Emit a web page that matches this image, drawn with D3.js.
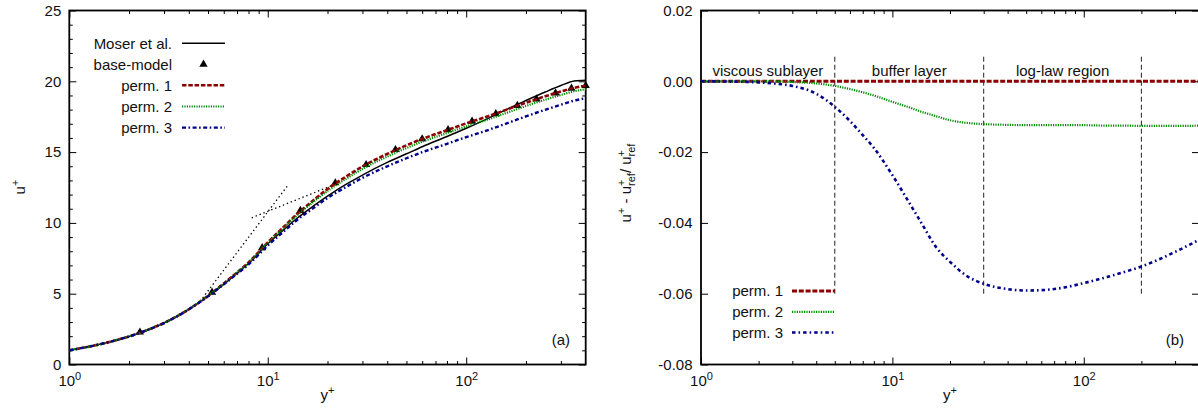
<!DOCTYPE html>
<html><head><meta charset="utf-8">
<script src="https://cdn.jsdelivr.net/npm/d3@7"></script>
<style>
body{margin:0;background:#fff}
svg{display:block}
text{font-family:'Liberation Sans',Arial,Helvetica,sans-serif;fill:#111}
</style>
</head><body>
<svg id="c" width="1198" height="414"></svg>
<script>
// ---------------- data ----------------
const yPlus = [1,1.5,2,2.5,3,4,5,6,7,8,10,12,14,17,20,25,30,40,50,60,80,100,130,160,200,250,300,350,400];
const moserU = [1.0,1.5,1.98,2.46,2.93,3.9,4.82,5.66,6.45,7.13,8.53,9.5,10.31,11.2,11.89,12.75,13.38,14.27,14.88,15.38,16.1,16.68,17.4,18.02,18.64,19.24,19.7,20.02,20.08];
const perm1U = [1.0,1.5,1.98,2.46,2.93,3.9,4.85,5.72,6.5,7.2,8.63,9.7,10.61,11.6,12.39,13.3,13.98,14.87,15.48,15.93,16.55,17.03,17.55,18.0,18.49,18.94,19.28,19.54,19.69];
const perm2U = [1.0,1.5,1.98,2.46,2.929,3.898,4.844,5.707,6.48,7.171,8.58,9.63,10.52,11.485,12.254,13.143,13.81,14.687,15.288,15.732,16.345,16.819,17.331,17.775,18.257,18.701,19.037,19.294,19.444];
const perm3U = [1.0,1.5,1.979,2.458,2.926,3.886,4.815,5.656,6.401,7.065,8.401,9.375,10.191,11.055,11.758,12.565,13.18,13.997,14.565,14.99,15.587,16.059,16.578,17.028,17.523,17.989,18.35,18.633,18.808];
const baseYPlus = [2.27,5.24,9.37,14.6,21.9,31.3,44,60,81,107,141,181,226,282,339,400];
const baseU = [2.28,5.1,8.24,10.87,12.82,14.11,15.17,15.93,16.58,17.17,17.71,18.28,18.75,19.17,19.5,19.69];
const viscYPlus = [4.7,12.7];
const viscU = [4.7,12.7];
const logYPlus = [8.3,21];
const logU = [10.36,12.63];
const diff1 = [0,0,0,0,0,0,0,0,0,0,0,0,0,0,0,0,0,0,0,0,0,0,0,0,0,0,0,0,0];
const diff2 = [0,0,0,0,-0.0002,-0.0006,-0.0013,-0.0022,-0.0031,-0.004,-0.0058,-0.0072,-0.0085,-0.0099,-0.011,-0.0118,-0.0121,-0.0123,-0.0124,-0.0124,-0.0124,-0.0124,-0.0125,-0.0125,-0.0126,-0.0126,-0.0126,-0.0126,-0.0125];
const diff3 = [0,-0.0001,-0.0003,-0.0007,-0.0013,-0.0035,-0.0072,-0.0112,-0.0152,-0.0188,-0.0265,-0.0335,-0.0395,-0.047,-0.051,-0.0553,-0.0572,-0.0587,-0.0591,-0.059,-0.0582,-0.057,-0.0554,-0.054,-0.0523,-0.0502,-0.0482,-0.0464,-0.0448];
const regionBounds = [5,30,200];
const regionLabelPos = [2.236,12.25,77.5];
const regionLabels = ["viscous sublayer","buffer layer","log-law region"];
const regionLineRange = [-0.06,0.007];
const leftTicksY = [0,5,10,15,20,25];
const leftMinorY = [1,2,3,4,6,7,8,9,11,12,13,14,16,17,18,19,21,22,23,24];
const rightTicksY = [-0.08,-0.06,-0.04,-0.02,0,0.02];
const xMajor = [1,10,100];
const xMinor = [2,3,4,5,6,7,8,9,20,30,40,50,60,70,80,90,200,300];
const leftLegend = ["Moser et al.","base-model","perm. 1","perm. 2","perm. 3"];
const rightLegend = ["perm. 1","perm. 2","perm. 3"];

// ---------------- styles ----------------
const C1 = "#8b0000", C2 = "#008a00", C3 = "#00008b";
const styleL = {
  moser:{stroke:"#000",w:1.5,dash:null},
  p1:{stroke:C1,w:2.6,dash:"4.5,1.8"},
  p2:{stroke:C2,w:2.2,dash:"1.2,1.2"},
  p3:{stroke:C3,w:2.4,dash:"4,2.5,1.6,2.5"}
};
const styleR = {
  p1:{stroke:C1,w:3,dash:"5,1.8"},
  p2:{stroke:C2,w:2.2,dash:"1.2,1.2"},
  p3:{stroke:C3,w:2.6,dash:"3.5,3,1.6,3"}
};

const svg = d3.select('#c');
svg.append('rect').attr('width',1198).attr('height',414).attr('fill','#fff');
const TOP = 10.5, BOT = 364.5;
const xL = d3.scaleLog().domain([1,400]).range([69.3,585.7]);
const yL = d3.scaleLinear().domain([0,25]).range([BOT,TOP]);
const xR = d3.scaleLog().domain([1,400]).range([701,1199]);
const yR = d3.scaleLinear().domain([-0.08,0.02]).range([BOT,TOP]);

function supLabel(sel){
  sel.each(function(d){
    const t = d3.select(this); t.text(null);
    t.append('tspan').text('10');
    t.append('tspan').attr('font-size',11).attr('dy',-6).text(Math.round(Math.log10(d)));
  });
}

function axes(x,y,yMaj,yMin,fmt,padY){
  const g = svg.append('g');
  const [x0,x1] = x.range();
  const clean = s => { s.select('.domain').remove(); s.selectAll('line').attr('stroke','#000').attr('stroke-width',1); };
  g.append('g').attr('transform',`translate(0,${BOT})`)
    .call(d3.axisBottom(x).tickValues(xMajor).tickSize(-7).tickSizeOuter(0).tickPadding(11))
    .call(clean)
    .call(s=>s.selectAll('text').attr('font-size',15).attr('fill','#111').call(supLabel));
  g.append('g').attr('transform',`translate(0,${BOT})`)
    .call(d3.axisBottom(x).tickValues(xMinor).tickSize(-3.5).tickSizeOuter(0).tickFormat(''))
    .call(clean);
  g.append('g').attr('transform',`translate(0,${TOP})`)
    .call(d3.axisTop(x).tickValues(xMajor).tickSize(-7).tickSizeOuter(0).tickFormat(''))
    .call(clean);
  g.append('g').attr('transform',`translate(0,${TOP})`)
    .call(d3.axisTop(x).tickValues(xMinor).tickSize(-3.5).tickSizeOuter(0).tickFormat(''))
    .call(clean);
  g.append('g').attr('transform',`translate(${x0},0)`)
    .call(d3.axisLeft(y).tickValues(yMaj).tickSize(-7).tickSizeOuter(0).tickPadding(padY).tickFormat(fmt))
    .call(clean)
    .call(s=>s.selectAll('text').attr('font-size',15).attr('fill','#111'));
  g.append('g').attr('transform',`translate(${x1},0)`)
    .call(d3.axisRight(y).tickValues(yMaj).tickSize(-7).tickSizeOuter(0).tickFormat(''))
    .call(clean);
  if(yMin.length){
    g.append('g').attr('transform',`translate(${x0},0)`)
      .call(d3.axisLeft(y).tickValues(yMin).tickSize(-3.5).tickSizeOuter(0).tickFormat(''))
      .call(clean);
    g.append('g').attr('transform',`translate(${x1},0)`)
      .call(d3.axisRight(y).tickValues(yMin).tickSize(-3.5).tickSizeOuter(0).tickFormat(''))
      .call(clean);
  }
  g.append('rect').attr('x',x0).attr('y',TOP).attr('width',x1-x0).attr('height',BOT-TOP)
    .attr('fill','none').attr('stroke','#000').attr('stroke-width',1.8);
}

function drawLine(g,x,y,xs,ys,st){
  const line = d3.line().x(d=>x(d[0])).y(d=>y(d[1])).curve(d3.curveMonotoneX);
  const p = g.append('path').datum(xs.map((v,i)=>[v,ys[i]])).attr('d',line)
    .attr('fill','none').attr('stroke',st.stroke).attr('stroke-width',st.w);
  if(st.dash) p.attr('stroke-dasharray',st.dash);
  return p;
}

function legendLine(g,x0,x1,yy,st){
  const p = g.append('line').attr('x1',x0).attr('x2',x1).attr('y1',yy).attr('y2',yy)
    .attr('stroke',st.stroke).attr('stroke-width',st.w);
  if(st.dash) p.attr('stroke-dasharray',st.dash);
}

function richLabel(pieces,x,y,rot){
  const g = svg.append('g');
  const inner = g.append('g');
  let cx = 0;
  pieces.forEach(p=>{
    if(p.t){
      const t = inner.append('text').attr('x',cx).attr('y',0).attr('font-size',15).style('white-space','pre').text(p.t);
      cx += t.node().getComputedTextLength();
    } else {
      let w = 0;
      if(p.sup){ const t = inner.append('text').attr('x',cx).attr('y',-6).attr('font-size',11).text(p.sup); w = Math.max(w,t.node().getComputedTextLength()); }
      if(p.sub){ const t = inner.append('text').attr('x',cx).attr('y',4).attr('font-size',11).text(p.sub); w = Math.max(w,t.node().getComputedTextLength()); }
      cx += w;
    }
  });
  inner.attr('transform',`translate(${-cx/2},0)`);
  g.attr('transform',`translate(${x},${y}) rotate(${rot})`);
}

// ---------------- left panel ----------------
axes(xL,yL,leftTicksY,leftMinorY,d3.format('d'),8);
const gL = svg.append('g');
drawLine(gL,xL,yL,viscYPlus,viscU,{stroke:'#000',w:1.3,dash:'1.4,2.8'});
drawLine(gL,xL,yL,logYPlus,logU,{stroke:'#000',w:1.3,dash:'1.4,2.8'});
drawLine(gL,xL,yL,yPlus,moserU,styleL.moser);
const tri = d3.symbol(d3.symbolTriangle,30);
gL.selectAll('path.base').data(baseYPlus.map((v,i)=>[v,baseU[i]])).join('path').attr('class','base')
  .attr('d',tri).attr('transform',d=>`translate(${xL(d[0])},${yL(d[1])})`).attr('fill','#000');
drawLine(gL,xL,yL,yPlus,perm1U,styleL.p1);
drawLine(gL,xL,yL,yPlus,perm2U,styleL.p2);
drawLine(gL,xL,yL,yPlus,perm3U,styleL.p3);

// left legend
const lg = svg.append('g');
const lgY = [43.3,64.3,85.3,106.5,127.6];
leftLegend.forEach((t,i)=>{
  lg.append('text').attr('x',172).attr('y',lgY[i]).attr('dy','0.35em').attr('text-anchor','end').attr('font-size',15).text(t);
});
legendLine(lg,182,225,lgY[0],styleL.moser);
lg.append('path').attr('d',tri).attr('transform',`translate(203.5,${lgY[1]})`).attr('fill','#000');
legendLine(lg,182,225,lgY[2],styleL.p1);
legendLine(lg,182,225,lgY[3],styleL.p2);
legendLine(lg,182,225,lgY[4],styleL.p3);
svg.append('text').attr('x',570).attr('y',345).attr('text-anchor','end').attr('font-size',15).text('(a)');

// ---------------- right panel ----------------
axes(xR,yR,rightTicksY,[],d=>d.toFixed(2),8.5);
const gR = svg.append('g');
regionBounds.forEach(b=>{
  gR.append('line').attr('x1',xR(b)).attr('x2',xR(b)).attr('y1',yR(regionLineRange[0])).attr('y2',yR(regionLineRange[1]))
    .attr('stroke','#222').attr('stroke-width',1).attr('stroke-dasharray','5,3');
});
regionLabels.forEach((t,i)=>{
  gR.append('text').attr('x',xR(regionLabelPos[i])).attr('y',76).attr('text-anchor','middle').attr('font-size',15).text(t);
});
drawLine(gR,xR,yR,yPlus,diff1,styleR.p1);
drawLine(gR,xR,yR,yPlus,diff2,styleR.p2);
drawLine(gR,xR,yR,yPlus,diff3,styleR.p3);

const rg = svg.append('g');
const rgY = [291,311.8,332.5];
rightLegend.forEach((t,i)=>{
  rg.append('text').attr('x',783).attr('y',rgY[i]).attr('dy','0.35em').attr('text-anchor','end').attr('font-size',15).text(t);
});
legendLine(rg,792,835,rgY[0],styleR.p1);
legendLine(rg,792,835,rgY[1],styleR.p2);
legendLine(rg,792,835,rgY[2],styleR.p3);
svg.append('text').attr('x',1184).attr('y',345).attr('text-anchor','end').attr('font-size',15).text('(b)');

// ---------------- axis titles ----------------
richLabel([{t:'u'},{sup:'+'}],25,187,-90);
richLabel([{t:'u'},{sup:'+'},{t:' - u'},{sup:'+',sub:'ref'},{t:'/ u'},{sup:'+',sub:'ref'}],631,183,-90);
[[xL,327.5],[xR,950]].forEach(([s,cx])=>{
  const t = svg.append('text').attr('x',cx).attr('y',400).attr('text-anchor','middle').attr('font-size',15);
  t.append('tspan').text('y');
  t.append('tspan').attr('font-size',11).attr('dy',-6).text('+');
});
</script>
</body></html>
